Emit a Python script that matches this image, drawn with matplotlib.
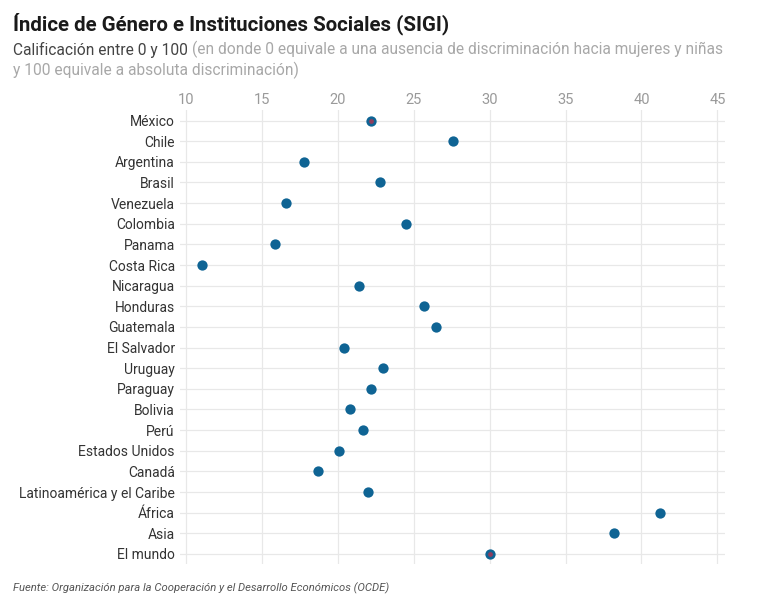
import matplotlib
matplotlib.use("Agg")
import matplotlib.pyplot as plt

paises = ["México", "Chile", "Argentina", "Brasil", "Venezuela", "Colombia",
          "Panama", "Costa Rica", "Nicaragua", "Honduras", "Guatemala",
          "El Salvador", "Uruguay", "Paraguay", "Bolivia", "Perú",
          "Estados Unidos", "Canadá", "Latinoamérica y el Caribe", "África",
          "Asia", "El mundo"]
sigi = [22.2, 27.6, 17.8, 22.8, 16.6, 24.5, 15.9, 11.1, 21.4, 25.7, 26.5,
        20.4, 23.0, 22.2, 20.8, 21.7, 20.1, 18.7, 22.0, 41.2, 38.2, 30.0]
destacados = ["México", "El mundo"]
ticks = [10, 15, 20, 25, 30, 35, 40, 45]

plt.rcParams['font.family'] = ['Roboto', 'DejaVu Sans']

fig = plt.figure(figsize=(7.68, 5.99), dpi=100)
ax = fig.add_axes([0.234, 0.058, 0.710, 0.758])

y = list(range(len(paises)))
ax.scatter(sigi, y, s=55, color="#0f6494", zorder=3, linewidths=0)
for p, v, i in zip(paises, sigi, y):
    if p in destacados:
        ax.scatter([v], [i], s=12, color="#8e3d5e", zorder=4, linewidths=0)

ax.set_xlim(9.6, 45.5)
ax.set_ylim(len(paises) - 0.5, -0.5)
ax.set_xticks(ticks)
ax.set_yticks(y)
ax.set_yticklabels(paises)
ax.xaxis.tick_top()
ax.tick_params(axis="x", length=0, pad=2, labelsize=10.5, labelcolor="#9a9a9a")
ax.tick_params(axis="y", length=0, pad=3.5, labelsize=10, labelcolor="#333333")
ax.grid(True, color="#e8e8e8", linewidth=0.9)
ax.set_axisbelow(True)
for s in ax.spines.values():
    s.set_visible(False)

fig.text(0.017, 0.961, "Índice de Género e Instituciones Sociales (SIGI)",
         fontsize=14.7, fontweight="bold", color="#1a1a1a", va="center")
t1 = fig.text(0.017, 0.917, "Calificación entre 0 y 100 ", fontsize=11.2,
              color="#444444", va="center")
fig.canvas.draw()
bb = t1.get_window_extent()
x2 = bb.x1 / fig.bbox.width
fig.text(x2, 0.917, "(en donde 0 equivale a una ausencia de discriminación hacia mujeres y niñas",
         fontsize=11.2, color="#a8a8a8", va="center")
fig.text(0.017, 0.882, "y 100 equivale a absoluta discriminación)", fontsize=11.2,
         color="#a8a8a8", va="center")
fig.text(0.017, 0.018,
         "Fuente: Organización para la Cooperación y el Desarrollo Económicos (OCDE)",
         fontsize=8.1, style="italic", color="#555555", va="center")

fig.savefig("out.png", dpi=100)
